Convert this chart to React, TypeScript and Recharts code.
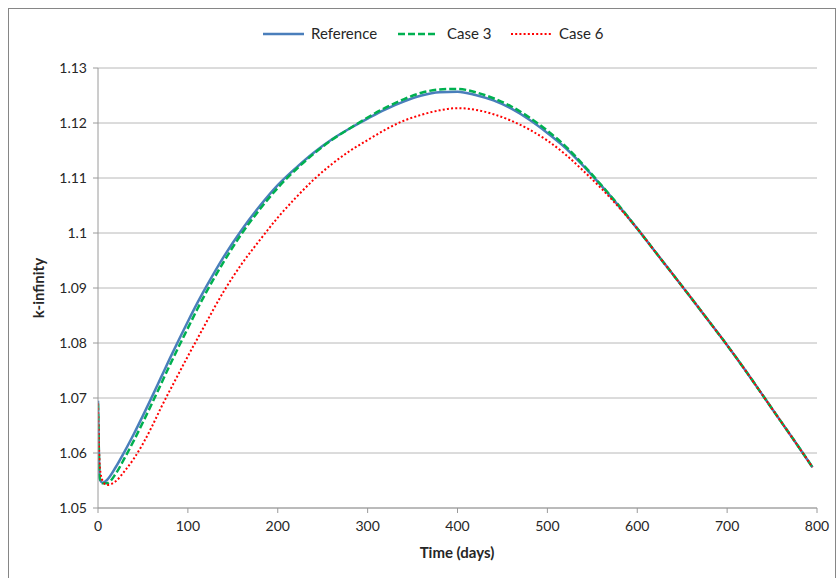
import React from "react";
import { LineChart, Line, XAxis, YAxis, CartesianGrid, Label } from "recharts";

// time (days) shared by the three runs
const days = [
  0, 2, 5, 10, 20, 30, 40, 50, 60, 70, 80, 90, 100, 110, 120, 140, 160, 180, 200, 220, 240, 260, 280, 300,
  320, 340, 360, 380, 400, 420, 440, 460, 480, 500, 520, 540, 560, 580, 600, 620, 640, 660, 680, 700, 720,
  740, 760, 780, 795,
];

const reference = [
  1.0695, 1.0552, 1.0546, 1.0551, 1.0575, 1.0604, 1.0635, 1.0668, 1.0702, 1.0737, 1.0772, 1.0806, 1.0839,
  1.0871, 1.0901, 1.0957, 1.1006, 1.1049, 1.1087, 1.1118, 1.1146, 1.117, 1.119, 1.1208, 1.1225, 1.1239,
  1.125, 1.1256, 1.1257, 1.1251, 1.1241, 1.1226, 1.1206, 1.1182, 1.1155, 1.1122, 1.1086, 1.1048, 1.1008,
  1.0966, 1.0924, 1.0882, 1.0839, 1.0796, 1.0751, 1.0704, 1.0657, 1.061, 1.0574,
];

const case3 = [
  1.069, 1.0555, 1.0545, 1.0545, 1.0563, 1.0592, 1.0623, 1.0656, 1.069, 1.0725, 1.076, 1.0794, 1.0827,
  1.086, 1.0891, 1.0948, 1.0999, 1.1043, 1.1082, 1.1115, 1.1144, 1.1169, 1.119, 1.121, 1.1228, 1.1243,
  1.1255, 1.1261, 1.1262, 1.1256, 1.1245, 1.123, 1.121, 1.1186, 1.1158, 1.1124, 1.1087, 1.1049, 1.1008,
  1.0966, 1.0924, 1.0882, 1.0839, 1.0796, 1.0751, 1.0704, 1.0657, 1.061, 1.0574,
];

const case6 = [
  1.069, 1.0575, 1.055, 1.0542, 1.0549, 1.0568, 1.059, 1.0617, 1.0648, 1.0682, 1.0714, 1.0745, 1.0776,
  1.0806, 1.0836, 1.0894, 1.0944, 1.0987, 1.1028, 1.1064, 1.1097, 1.1125, 1.1149, 1.1169, 1.1188, 1.1204,
  1.1215, 1.1223, 1.1227, 1.1224, 1.1216, 1.1204, 1.1188, 1.1168, 1.1143, 1.1113, 1.1081, 1.1046, 1.1008,
  1.0966, 1.0924, 1.0882, 1.0839, 1.0796, 1.0751, 1.0704, 1.0657, 1.061, 1.0574,
];

const xTicks = [0, 100, 200, 300, 400, 500, 600, 700, 800];
const yTicks = [1.05, 1.06, 1.07, 1.08, 1.09, 1.1, 1.11, 1.12, 1.13];

const data = days.map((t, i) => ({ t, reference: reference[i], case3: case3[i], case6: case6[i] }));

const FONT = "Lato, 'Open Sans', sans-serif";
const TEXT = "#262626";
const AXIS = "#9a9a9a";
const GRID = "#b8b8b8";

const BLUE = "#4a7ebb";
const GREEN = "#00b050";
const RED = "#ff0000";

const ChartLegend = () => (
  <svg width={837} height={30} style={{ position: "absolute", left: 0, top: 20 }}>
    <g fontFamily={FONT} fontSize={15} fill={TEXT}>
      <line x1={263} x2={304} y1={14} y2={14} stroke={BLUE} strokeWidth={2.5} />
      <text x={311} y={19}>Reference</text>
      <line x1={398} x2={437} y1={14} y2={14} stroke={GREEN} strokeWidth={2.5} strokeDasharray="7 3" />
      <text x={447} y={19}>Case 3</text>
      <line x1={511} x2={552} y1={14} y2={14} stroke={RED} strokeWidth={2} strokeDasharray="2 2.2" />
      <text x={559} y={19}>Case 6</text>
    </g>
  </svg>
);

export default function App() {
  return (
    <div style={{ position: "absolute", left: 0, top: 0, width: 837, height: 578, background: "#fff", overflow: "hidden" }}>
      <div
        style={{
          position: "absolute",
          left: 8,
          top: 8,
          width: 826,
          height: 600,
          border: "1px solid #868686",
        }}
      />
      <ChartLegend />
      <LineChart
        width={837}
        height={578}
        data={data}
        margin={{ top: 68, right: 20, bottom: 20, left: 38 }}
        style={{ position: "absolute", left: 0, top: 0 }}
      >
        <CartesianGrid vertical={false} stroke={GRID} strokeWidth={1} />
        <XAxis
          type="number"
          dataKey="t"
          domain={[0, 800]}
          ticks={xTicks}
          allowDataOverflow
          height={50}
          stroke={AXIS}
          tickSize={5}
          tickMargin={8}
          tick={{ fill: TEXT, fontSize: 14, fontFamily: FONT }}
        >
          <Label
            content={() => (
              <text x={457} y={558} textAnchor="middle" fontFamily={FONT} fontSize={15} fontWeight="bold" fill={TEXT}>
                Time (days)
              </text>
            )}
          />
        </XAxis>
        <YAxis
          type="number"
          domain={[1.05, 1.13]}
          ticks={yTicks}
          allowDataOverflow
          width={60}
          stroke={AXIS}
          tickSize={5}
          tickMargin={6}
          tickFormatter={(v: number) => String(Number(v.toFixed(2)))}
          tick={{ fill: TEXT, fontSize: 14, fontFamily: FONT }}
        >
          <Label
            content={() => (
              <text
                x={44}
                y={288}
                transform="rotate(-90 44 288)"
                textAnchor="middle"
                fontFamily={FONT}
                fontSize={15}
                fontWeight="bold"
                fill={TEXT}
              >
                k-infinity
              </text>
            )}
          />
        </YAxis>
        <Line
          dataKey="reference"
          type="monotone"
          stroke={BLUE}
          strokeWidth={2.5}
          dot={false}
          isAnimationActive={false}
        />
        <Line
          dataKey="case3"
          type="monotone"
          stroke={GREEN}
          strokeWidth={2.5}
          strokeDasharray="7 3"
          dot={false}
          isAnimationActive={false}
        />
        <Line
          dataKey="case6"
          type="monotone"
          stroke={RED}
          strokeWidth={2}
          strokeDasharray="2 2.2"
          dot={false}
          isAnimationActive={false}
        />
      </LineChart>
    </div>
  );
}
